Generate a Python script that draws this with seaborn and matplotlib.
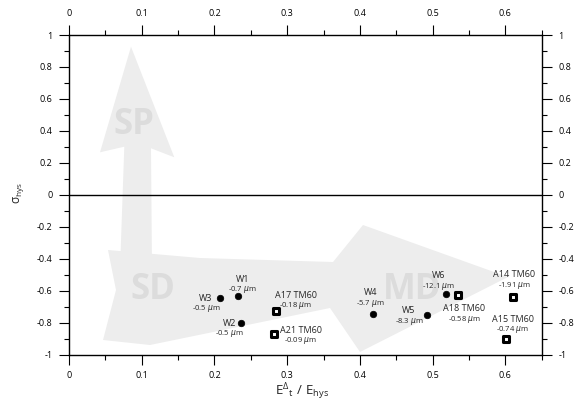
import matplotlib
matplotlib.use("Agg")
import matplotlib.pyplot as plt
import seaborn as sns
import pandas as pd
import numpy as np
from matplotlib.patches import Polygon
from matplotlib.ticker import MultipleLocator, FuncFormatter

# ---- data ----
names = ['W1', 'W2', 'W3', 'W4', 'W5', 'W6',
         'A14 TM60', 'A15 TM60', 'A17 TM60', 'A18 TM60', 'A21 TM60']
sizes = ['-0.7', '-0.5', '-0.5', '-5.7', '-8.3', '-12.1',
         '-1.91', '-0.74', '-0.18', '-0.58', '-0.09']
e_ratio = [0.232, 0.236, 0.208, 0.418, 0.492, 0.519,
           0.611, 0.601, 0.284, 0.535, 0.282]
sigma_hys = [-0.633, -0.804, -0.647, -0.743, -0.750, -0.620,
             -0.637, -0.900, -0.727, -0.628, -0.873]
group = ['W', 'W', 'W', 'W', 'W', 'W', 'A', 'A', 'A', 'A', 'A']
# label offsets (pixels, name block) relative to each marker
lab_dx = [5, -11, -14.5, -2.7, -18, -8, 1, 6.6, 20, 6.3, 26.5]
lab_dy = [-17, 0, 0, -21, -4, -18.3, -21.7, -19.7, -16, 13.7, -4]

xticks = [0, 0.1, 0.2, 0.3, 0.4, 0.5, 0.6]
yticks = [-1, -0.8, -0.6, -0.4, -0.2, 0, 0.2, 0.4, 0.6, 0.8, 1]

df = pd.DataFrame({'x': e_ratio, 'y': sigma_hys, 'g': group,
                   'name': names, 'size': sizes})

sns.set_style('white')
plt.rcParams['font.family'] = ['Open Sans', 'DejaVu Sans']
plt.rcParams['axes.unicode_minus'] = False
plt.rcParams['mathtext.fontset'] = 'dejavusans'

W, H = 579, 404
fig = plt.figure(figsize=(W / 100, H / 100), dpi=100)
L, R, T, B = 69, 541.7, 35, 354.7
ax = fig.add_axes([L / W, 1 - B / H, (R - L) / W, (B - T) / H])
ax.set_xlim(0, 0.65)
ax.set_ylim(-1, 1)

def px2d(px, py):
    return ((px - L) / (R - L) * 0.65, 1 - (py - T) / (B - T) * 2)

arrow_col = '#ededed'
txt_col = '#dcdcdc'
# vertical (SP) arrow
sp_px = [(131, 46.7), (174.3, 157.3), (151, 148.3), (152, 270),
         (120, 270), (124.3, 146.7), (100, 152.3)]
# horizontal (SD -> MD) arrow
md_px = [(108, 250), (116, 290), (103, 340), (150, 345), (330, 308),
         (360, 352), (508, 277), (363, 225), (333, 262), (200, 258)]
for pts in (sp_px, md_px):
    ax.add_patch(Polygon([px2d(*p) for p in pts], closed=True,
                         facecolor=arrow_col, edgecolor='none', zorder=0))
for t, (px, py) in [('SP', (134, 125)), ('SD', (153, 290)), ('MD', (412, 290))]:
    xd, yd = px2d(px, py)
    ax.text(xd, yd, t, fontsize=25, fontweight='bold', color=txt_col,
            ha='center', va='center', zorder=0.5)

ax.axhline(0, color='black', lw=1.0, zorder=1)

sns.scatterplot(data=df[df.g == 'W'], x='x', y='y', ax=ax, marker='o',
                color='black', s=22, edgecolor='black', linewidth=0.5,
                legend=False, zorder=3)
sns.scatterplot(data=df[df.g == 'A'], x='x', y='y', ax=ax, marker='s',
                color='white', s=14, edgecolor='black', linewidth=2.2,
                legend=False, zorder=3)

for i in range(len(names)):
    ax.annotate(names[i], (e_ratio[i], sigma_hys[i]),
                xytext=(lab_dx[i], -lab_dy[i]), textcoords='offset pixels',
                ha='center', va='center', fontsize=6.5, zorder=4)
    ax.annotate(sizes[i] + ' $\\mu$m', (e_ratio[i], sigma_hys[i]),
                xytext=(lab_dx[i], -lab_dy[i] - 10.5), textcoords='offset pixels',
                ha='center', va='center', fontsize=5.5, zorder=4)

fmt = FuncFormatter(lambda v, p: ('%g' % round(v, 3)).replace('−', '-'))
ax.set_xticks(xticks)
ax.set_yticks(yticks)
ax.xaxis.set_minor_locator(MultipleLocator(0.05))
ax.yaxis.set_minor_locator(MultipleLocator(0.1))
ax.xaxis.set_major_formatter(fmt)
ax.yaxis.set_major_formatter(fmt)
ax.tick_params(which='both', direction='out', top=True, right=True,
               bottom=True, left=True, labeltop=True, labelright=True,
               labelsize=6.5, width=0.8, colors='black')
ax.tick_params(which='major', length=7.5, pad=4.5)
ax.tick_params(which='minor', length=3.5)
for s in ax.spines.values():
    s.set_color('black')
    s.set_linewidth(1.0)

ax.set_xlabel('')
ax.set_ylabel('')
fig.text(302 / W, 1 - 392 / H,
         r'$\mathregular{E^{\Delta}{}_{t}\ /\ E_{hys}}$',
         ha='center', va='center', fontsize=9.5)
fig.text(18 / W, 1 - 193 / H, r'$\mathregular{\sigma_{hys}}$',
         ha='center', va='center', fontsize=8.5, rotation=90)

fig.savefig('out.png', dpi=100)
